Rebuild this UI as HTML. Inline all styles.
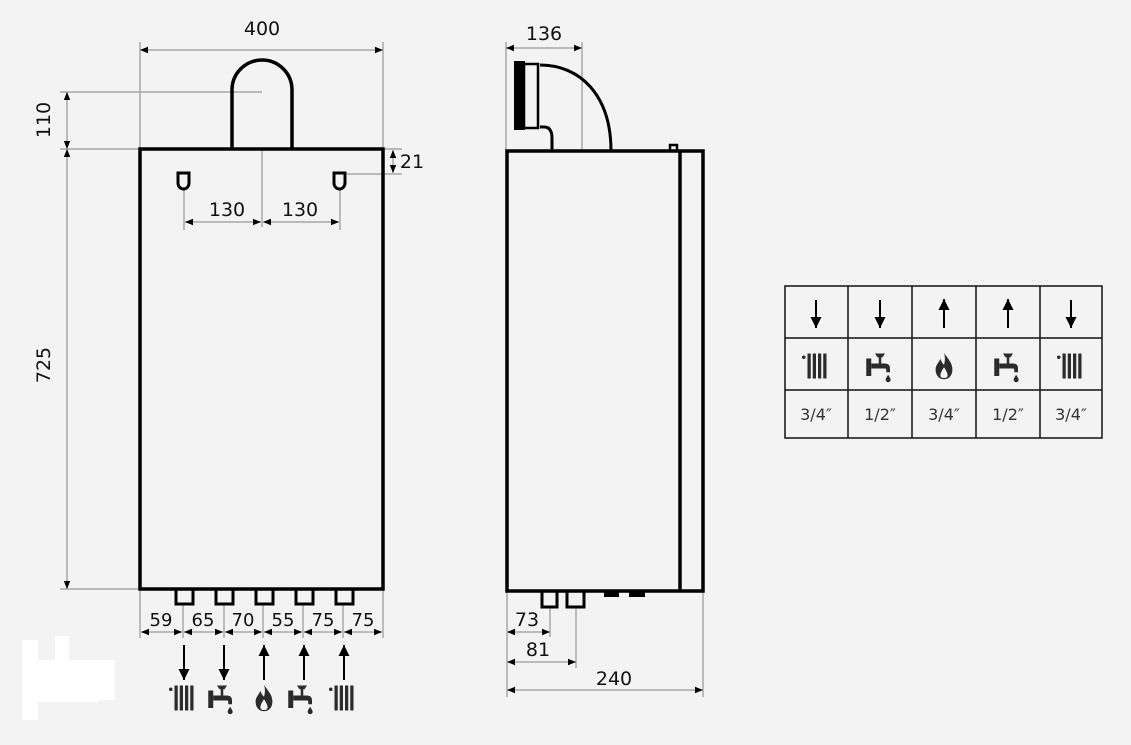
<!DOCTYPE html>
<html><head><meta charset="utf-8"><style>
html,body{margin:0;padding:0;background:#f3f3f3;}
svg{display:block;font-family:"DejaVu Sans","Liberation Sans",sans-serif;}
</style></head><body>
<svg width="1131" height="745" viewBox="0 0 1131 745" xmlns="http://www.w3.org/2000/svg">
<defs>
<marker id="a" viewBox="0 0 10 10" refX="10" refY="5" markerWidth="12" markerHeight="8" orient="auto-start-reverse" markerUnits="userSpaceOnUse"><path d="M0,1 L10,5 L0,9 Z" fill="#000"/></marker>
<marker id="ar" viewBox="0 0 10 10" refX="10" refY="5" markerWidth="11" markerHeight="11" orient="auto" markerUnits="userSpaceOnUse"><path d="M0,0 L10,5 L0,10 Z" fill="#000"/></marker>
<g id="rad0" fill="#2b2b2b"><circle cx="-9" cy="-7" r="1.4"/><rect x="-6" y="-10" width="2.6" height="20"/><rect x="-1.8" y="-10" width="2.6" height="20"/><rect x="2.4" y="-10" width="2.6" height="20"/><rect x="6.6" y="-10" width="2.6" height="20"/></g>
<g id="tap0" fill="#2b2b2b"><rect x="-11" y="-6" width="4" height="14"/><path d="M-7,-2 H4 Q8,-2 8,2 V5 H5 V3 Q5,2 4,2 H-7 Z"/><path d="M-4,-10 H4 L2,-7 H1 V-2 H-1 V-7 H-2 Z"/><path d="M6.5,7 Q8.5,10 8.5,11 A2,2 0 0 1 4.5,11 Q4.5,10 6.5,7 Z"/></g>
<g id="fl0" fill="#2b2b2b"><path d="M0,-11 C3,-6 7,-3 7,3 C7,8 4,11 0,11 C-4,11 -7,8 -7,3 C-7,-1 -4,-3 -3,-6 C-2,-3 -1,-2 0,-1 C1,-4 1,-8 0,-11 Z M0,1 C-2,4 -3,6 -3,8 C-3,9.5 -1.5,10 0,10 C1.5,10 3,9.5 3,8 C3,6 2,4 0,1 Z" fill-rule="evenodd"/></g>
<g id="rad"><use href="#rad0" transform="scale(1.25)"/></g>
<g id="tap"><use href="#tap0" transform="scale(1.25)"/></g>
<g id="fl"><use href="#fl0" transform="scale(1.2)"/></g>
</defs>

<g fill="#fff"><rect x="22" y="640" width="16" height="80"/><rect x="30" y="660" width="85" height="40"/><rect x="55" y="636" width="14" height="30"/><rect x="38" y="690" width="60" height="12"/></g>

<!-- FRONT VIEW -->
<g stroke="#a8a8a8" stroke-width="1.5" fill="none">
<line x1="140" y1="42" x2="140" y2="149"/><line x1="383" y1="42" x2="383" y2="149"/>
<line x1="60" y1="92" x2="262" y2="92"/><line x1="60" y1="149" x2="140" y2="149"/><line x1="60" y1="589" x2="140" y2="589"/>
<line x1="262" y1="149" x2="262" y2="227"/>
<line x1="184" y1="189" x2="184" y2="230"/><line x1="340" y1="189" x2="340" y2="230"/>
<line x1="383" y1="149" x2="402" y2="149"/><line x1="347" y1="174" x2="402" y2="174"/>
<line x1="140" y1="589" x2="140" y2="638"/><line x1="383" y1="589" x2="383" y2="638"/>
<line x1="183" y1="604" x2="183" y2="638"/><line x1="224" y1="604" x2="224" y2="638"/><line x1="263" y1="604" x2="263" y2="638"/><line x1="303" y1="604" x2="303" y2="638"/><line x1="343" y1="604" x2="343" y2="638"/>
</g>
<g stroke="#a8a8a8" stroke-width="1.5" fill="none" marker-start="url(#a)" marker-end="url(#a)">
<line x1="140" y1="50" x2="383" y2="50"/>
<line x1="67" y1="92" x2="67" y2="149"/>
<line x1="67" y1="149" x2="67" y2="589"/>
<line x1="185" y1="222" x2="261" y2="222"/><line x1="263" y1="222" x2="339" y2="222"/>
<line x1="393" y1="150" x2="393" y2="173"/>
<line x1="141" y1="632" x2="182" y2="632"/><line x1="184" y1="632" x2="223" y2="632"/><line x1="225" y1="632" x2="262" y2="632"/><line x1="264" y1="632" x2="302" y2="632"/><line x1="304" y1="632" x2="342" y2="632"/><line x1="344" y1="632" x2="382" y2="632"/>
</g>
<g stroke="#000" stroke-width="3.5" fill="none">
<rect x="140" y="149" width="243" height="440"/>
<path d="M232,149 V90 A30,30 0 0 1 292,90 V149"/>
<path d="M178,173 H189 V183 A5.5,6 0 0 1 178,183 Z" stroke-width="3"/>
<path d="M334,173 H345 V183 A5.5,6 0 0 1 334,183 Z" stroke-width="3"/>
<g stroke-width="3"><rect x="176" y="589" width="17" height="15"/><rect x="216" y="589" width="17" height="15"/><rect x="256" y="589" width="17" height="15"/><rect x="296" y="589" width="17" height="15"/><rect x="336" y="589" width="17" height="15"/></g>
</g>
<g font-size="19" fill="#111" text-anchor="middle">
<text x="262" y="35">400</text>
<text transform="translate(50,120) rotate(-90)">110</text>
<text transform="translate(50,365) rotate(-90)">725</text>
<text x="227" y="216">130</text><text x="300" y="216">130</text>
<text x="412" y="168">21</text>
<g font-size="18"><text x="161" y="626">59</text><text x="203" y="626">65</text><text x="243" y="626">70</text><text x="283" y="626">55</text><text x="323" y="626">75</text><text x="363" y="626">75</text></g>
</g>
<g stroke="#000" stroke-width="2">
<line x1="184" y1="645" x2="184" y2="680" marker-end="url(#ar)"/>
<line x1="224" y1="645" x2="224" y2="680" marker-end="url(#ar)"/>
<line x1="264" y1="680" x2="264" y2="645" marker-end="url(#ar)"/>
<line x1="304" y1="680" x2="304" y2="645" marker-end="url(#ar)"/>
<line x1="344" y1="680" x2="344" y2="645" marker-end="url(#ar)"/>
</g>
<use href="#rad" x="182" y="698"/><use href="#tap" x="222" y="698"/><use href="#fl" x="264" y="698"/><use href="#tap" x="302" y="698"/><use href="#rad" x="342" y="698"/>

<!-- SIDE VIEW -->
<g stroke="#a8a8a8" stroke-width="1.5" fill="none">
<line x1="506" y1="42" x2="506" y2="150"/><line x1="582" y1="42" x2="582" y2="150"/>
<line x1="507" y1="591" x2="507" y2="697"/><line x1="703" y1="591" x2="703" y2="697"/>
<line x1="550" y1="608" x2="550" y2="637"/><line x1="576" y1="608" x2="576" y2="668"/>
</g>
<g stroke="#a8a8a8" stroke-width="1.5" fill="none" marker-start="url(#a)" marker-end="url(#a)">
<line x1="506" y1="48" x2="582" y2="48"/>
<line x1="507" y1="632" x2="550" y2="632"/>
<line x1="507" y1="662" x2="576" y2="662"/>
<line x1="507" y1="690" x2="703" y2="690"/>
</g>
<g stroke="#000" stroke-width="3.5" fill="none">
<rect x="507" y="151" width="196" height="440"/>
<line x1="680" y1="151" x2="680" y2="591"/>
<rect x="670" y="145" width="7" height="6" stroke-width="2.5"/>
<rect x="515" y="62" width="9" height="67" fill="#000" stroke-width="2"/>
<rect x="524" y="64" width="14" height="64" stroke-width="2.5"/>
<path d="M540,65 C580,65 611,95 611,151" stroke-width="3"/>
<path d="M540,127 H544 Q552,127 552,138 V151" stroke-width="3"/>
<g stroke-width="3"><rect x="542" y="591" width="15" height="16"/><rect x="567" y="591" width="17" height="16"/></g>
</g>
<g fill="#000"><rect x="604" y="591" width="15" height="6"/><rect x="629" y="591" width="16" height="6"/></g>
<g font-size="19" fill="#111" text-anchor="middle">
<text x="544" y="40">136</text>
<text x="527" y="626">73</text>
<text x="538" y="656">81</text>
<text x="614" y="685">240</text>
</g>

<!-- TABLE -->
<g stroke="#111" stroke-width="1.5" fill="none">
<rect x="785" y="286" width="317" height="152"/>
<line x1="785" y1="338" x2="1102" y2="338"/><line x1="785" y1="390" x2="1102" y2="390"/>
<line x1="848" y1="286" x2="848" y2="438"/><line x1="912" y1="286" x2="912" y2="438"/><line x1="976" y1="286" x2="976" y2="438"/><line x1="1040" y1="286" x2="1040" y2="438"/>
</g>
<g stroke="#000" stroke-width="2">
<line x1="816" y1="300" x2="816" y2="328" marker-end="url(#ar)"/>
<line x1="880" y1="300" x2="880" y2="328" marker-end="url(#ar)"/>
<line x1="944" y1="328" x2="944" y2="299" marker-end="url(#ar)"/>
<line x1="1008" y1="328" x2="1008" y2="299" marker-end="url(#ar)"/>
<line x1="1071" y1="300" x2="1071" y2="328" marker-end="url(#ar)"/>
</g>
<use href="#rad" x="815" y="366"/><use href="#tap" x="880" y="366"/><use href="#fl" x="944" y="366"/><use href="#tap" x="1008" y="366"/><use href="#rad" x="1070" y="366"/>
<g font-size="16" fill="#333" text-anchor="middle">
<text x="816" y="420">3/4″</text><text x="880" y="420">1/2″</text><text x="944" y="420">3/4″</text><text x="1008" y="420">1/2″</text><text x="1071" y="420">3/4″</text>
</g>
</svg>
</body></html>
